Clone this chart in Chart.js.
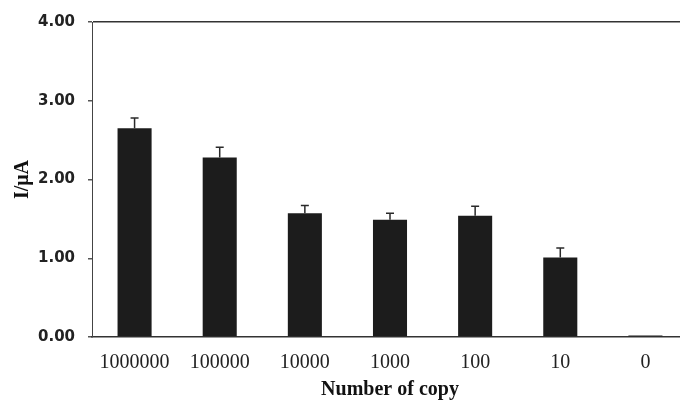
<!DOCTYPE html>
<html>
<head>
<meta charset="utf-8">
<script src="https://cdn.jsdelivr.net/npm/chart.js@4/dist/chart.umd.min.js"></script>
<style>
  html, body { margin: 0; padding: 0; background: #fff; overflow: hidden; }
  #wrap { width: 700px; height: 404px; }
</style>
</head>
<body>
<div id="wrap"><canvas id="c" width="700" height="404"></canvas></div>
<script>
// Copy-number dilution series and measured current
const categories = ['1000000', '100000', '10000', '1000', '100', '10', '0'];
const currentMean = [2.65, 2.28, 1.57, 1.49, 1.54, 1.01, 0.02];
const currentErr = [0.13, 0.13, 0.10, 0.08, 0.12, 0.12, 0];
const yTicks = [0, 1, 2, 3, 4];

// Upward error whiskers drawn from the y scale
const errorBars = {
  id: 'errorBars',
  afterDatasetsDraw(chart) {
    const { ctx, scales: { x, y } } = chart;
    ctx.save();
    ctx.strokeStyle = '#2a2a2a';
    ctx.lineWidth = 1.5;
    currentMean.forEach((v, i) => {
      const e = currentErr[i];
      if (!e) return;
      const cx = x.getPixelForValue(i);
      const yTop = y.getPixelForValue(v + e);
      const yBase = y.getPixelForValue(v);
      ctx.beginPath();
      ctx.moveTo(cx, yBase);
      ctx.lineTo(cx, yTop);
      ctx.moveTo(cx - 4, yTop);
      ctx.lineTo(cx + 4, yTop);
      ctx.stroke();
    });
    ctx.restore();
  }
};

new Chart(document.getElementById('c'), {
  type: 'bar',
  data: {
    labels: categories,
    datasets: [{
      data: currentMean,
      backgroundColor: '#1c1c1c',
      borderWidth: 0,
      barPercentage: 0.4,
      categoryPercentage: 1.0
    }]
  },
  options: {
    responsive: false,
    animation: false,
    layout: { padding: { top: 22, right: 12, bottom: 0, left: 0 } },
    plugins: { legend: { display: false }, tooltip: { enabled: false } },
    scales: {
      x: {
        offset: true,
        grid: { display: true, color: 'transparent', drawTicks: false },
        border: { color: '#333', width: 1.5 },
        ticks: {
          color: '#222',
          padding: 14,
          font: { family: '"Liberation Serif", "Times New Roman", serif', size: 20 }
        },
        title: {
          display: true,
          text: 'Number of copy',
          color: '#111',
          padding: { top: 0, bottom: 2 },
          font: { family: '"Liberation Serif", "Times New Roman", serif', size: 20, weight: 'bold' }
        },
        afterFit(s) { s.height = 67; }
      },
      y: {
        min: 0,
        max: 4,
        afterBuildTicks(s) { s.ticks = yTicks.map(v => ({ value: v })); },
        grid: {
          color: c => (c.tick && c.tick.value === 4 ? '#333' : 'transparent'),
          lineWidth: 1.5,
          tickColor: '#555',
          tickLength: 4
        },
        border: { color: '#444', width: 1 },
        ticks: {
          color: '#222',
          padding: 13,
          font: { family: '"DejaVu Sans", sans-serif', size: 15, weight: 'bold' },
          callback: v => Number(v).toFixed(2)
        },
        title: {
          display: true,
          text: 'I/μA',
          color: '#111',
          padding: { top: 11, bottom: 0 },
          font: { family: '"Liberation Serif", "Times New Roman", serif', size: 20, weight: 'bold' }
        },
        afterFit(s) { s.width = 92; }
      }
    }
  },
  plugins: [errorBars]
});
</script>
</body>
</html>
